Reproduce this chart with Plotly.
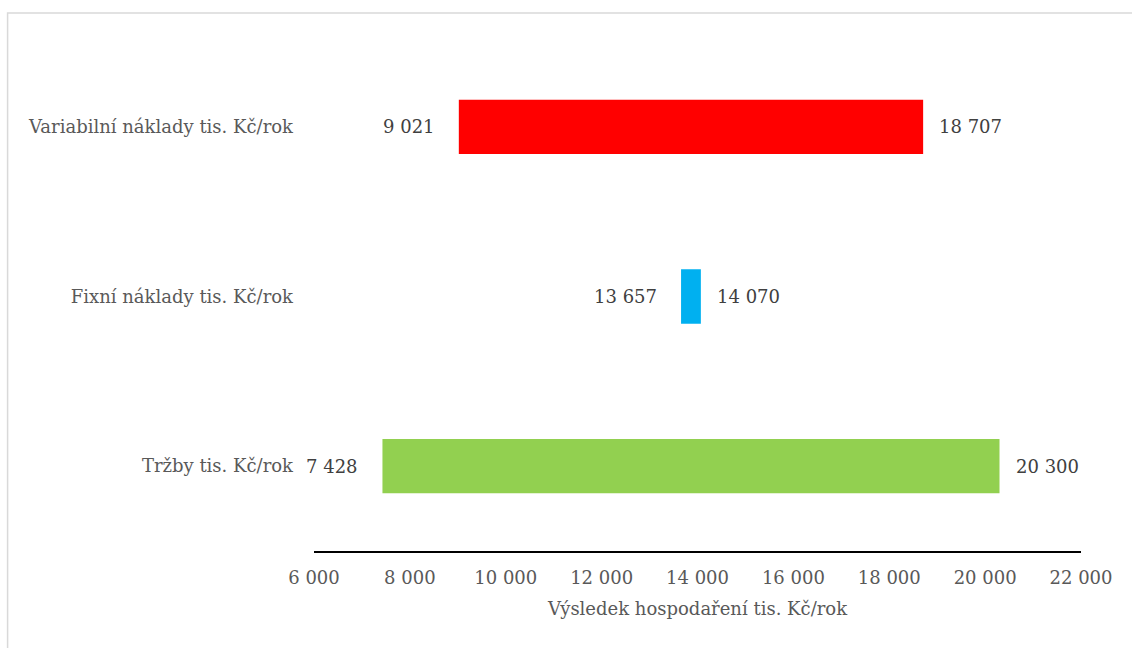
import plotly.graph_objects as go

categories = ["Tržby tis. Kč/rok", "Fixní náklady tis. Kč/rok", "Variabilní náklady tis. Kč/rok"]
low_values = [7428, 13657, 9021]
high_values = [20300, 14070, 18707]
bar_colors = ["#92D050", "#00B0F0", "#FF0000"]
tick_values = [6000, 8000, 10000, 12000, 14000, 16000, 18000, 20000, 22000]
tick_labels = ["6 000", "8 000", "10 000", "12 000", "14 000", "16 000", "18 000", "20 000", "22 000"]

FONT = "DejaVu Serif"
FS = 18

def fmt(v):
    return f"{v:,}".replace(",", " ")

fig = go.Figure()
fig.add_trace(go.Bar(
    y=categories,
    x=[h - l for l, h in zip(low_values, high_values)],
    base=low_values,
    orientation="h",
    marker=dict(color=bar_colors, line=dict(width=0)),
    width=0.32,
    hoverinfo="skip",
))

annotations = []
for c, l, h in zip(categories, low_values, high_values):
    annotations.append(dict(x=l, y=c, xref="x", yref="y", text=fmt(l), showarrow=False,
                            xanchor="right", xshift=-22, font=dict(family=FONT, size=FS, color="#404040")))
    annotations.append(dict(x=h, y=c, xref="x", yref="y", text=fmt(h), showarrow=False,
                            xanchor="left", xshift=14, font=dict(family=FONT, size=FS, color="#404040")))

fig.update_layout(
    width=1132, height=648,
    margin=dict(l=314, r=51, t=42, b=97),
    paper_bgcolor="white", plot_bgcolor="white",
    showlegend=False,
    font=dict(family=FONT, size=FS, color="#595959"),
    annotations=annotations,
    shapes=[dict(type="rect", xref="paper", yref="paper", x0=-0.3995, x1=1.2, y0=-0.5, y1=1.057,
                 line=dict(color="#D9D9D9", width=1.5), fillcolor="rgba(0,0,0,0)", layer="below")],
    xaxis=dict(range=[6000, 22000], tickvals=tick_values, ticktext=tick_labels,
               showgrid=False, zeroline=False, showline=True, linecolor="black", linewidth=2,
               ticks="", ticklabelstandoff=9,
               title=dict(text="Výsledek hospodaření tis. Kč/rok", standoff=16,
                          font=dict(family=FONT, size=FS, color="#595959"))),
    yaxis=dict(range=[-0.5, 2.5], showgrid=False, zeroline=False, showline=False, ticks="",
               ticklabelstandoff=20),
)

fig.write_html("out.html")
